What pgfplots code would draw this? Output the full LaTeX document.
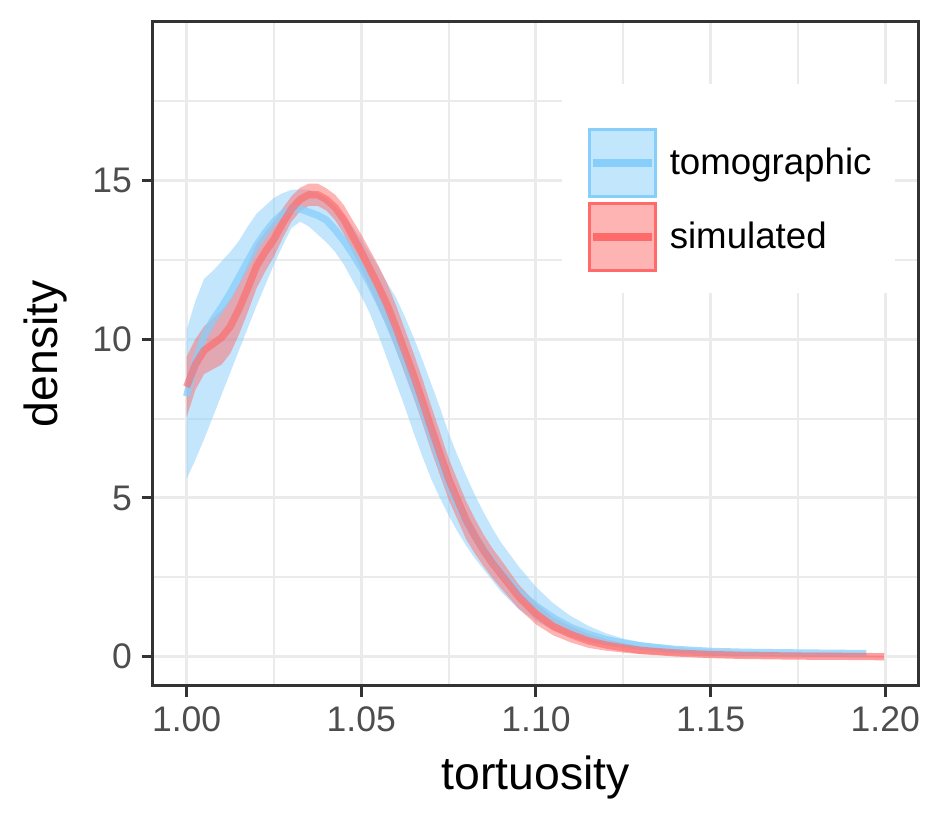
\documentclass[border=0pt]{standalone}
\usepackage{pgfplots}
\pgfplotsset{compat=1.18}
\usepackage{pgfplotstable}
\usepgfplotslibrary{fillbetween}
\usepackage{fontspec}
\setmainfont{Liberation Sans}

\definecolor{tomo}{HTML}{87CEFA}
\definecolor{simu}{HTML}{FF6A6A}
\definecolor{gridc}{RGB}{235,235,235}
\definecolor{axc}{RGB}{51,51,51}
\definecolor{tickc}{RGB}{77,77,77}

% tomographic: lower band, curve, upper band
\pgfplotstableread{
x lo mid hi
1.0000 5.60 8.20 10.30
1.0025 6.20 9.30 11.20
1.0050 6.85 10.10 11.90
1.0075 7.55 10.60 12.15
1.0100 8.25 11.00 12.45
1.0125 8.95 11.45 12.75
1.0150 9.65 11.95 13.10
1.0175 10.35 12.45 13.55
1.0200 11.05 12.95 13.95
1.0225 11.70 13.35 14.20
1.0250 12.35 13.70 14.45
1.0275 12.95 13.95 14.60
1.0300 13.50 14.10 14.70
1.0325 13.70 14.10 14.72
1.0350 13.55 14.00 14.70
1.0375 13.30 13.90 14.60
1.0400 13.05 13.75 14.45
1.0425 12.75 13.45 14.20
1.0450 12.35 13.10 13.90
1.0475 11.85 12.70 13.55
1.0500 11.35 12.25 13.15
1.0525 10.80 11.75 12.70
1.0550 10.10 11.20 12.25
1.0575 9.35 10.60 11.75
1.0600 8.60 9.95 11.30
1.0625 7.85 9.25 10.70
1.0650 7.05 8.50 10.05
1.0675 6.30 7.75 9.35
1.0700 5.60 6.95 8.60
1.0725 5.00 6.15 7.85
1.0750 4.45 5.40 7.05
1.0775 3.95 4.80 6.35
1.0800 3.50 4.25 5.70
1.0825 3.10 3.80 5.10
1.0850 2.75 3.38 4.55
1.0875 2.40 3.00 4.05
1.0900 2.05 2.65 3.60
1.0950 1.50 2.05 2.85
1.1000 1.12 1.60 2.20
1.1050 0.84 1.22 1.68
1.1100 0.62 0.92 1.28
1.1150 0.46 0.71 0.97
1.1200 0.36 0.54 0.74
1.1250 0.28 0.43 0.57
1.1300 0.22 0.34 0.46
1.1400 0.15 0.23 0.31
1.1500 0.11 0.17 0.23
1.1600 0.09 0.14 0.18
1.1750 0.08 0.12 0.15
1.1946 0.07 0.10 0.13
}\tomodata

% simulated
\pgfplotstableread{
x lo mid hi
1.0000 7.55 8.50 9.45
1.0025 8.40 9.20 10.00
1.0050 8.90 9.65 10.40
1.0075 9.05 9.85 10.65
1.0100 9.20 10.05 10.90
1.0125 9.55 10.40 11.25
1.0150 10.15 10.95 11.75
1.0175 10.85 11.60 12.35
1.0200 11.60 12.30 13.00
1.0225 12.13 12.75 13.37
1.0250 12.60 13.15 13.70
1.0275 13.18 13.65 14.12
1.0300 13.70 14.10 14.50
1.0325 14.03 14.40 14.77
1.0350 14.20 14.55 14.90
1.0375 14.20 14.55 14.90
1.0400 14.05 14.40 14.75
1.0425 13.75 14.15 14.55
1.0450 13.32 13.77 14.22
1.0475 12.75 13.25 13.75
1.0500 12.20 12.75 13.30
1.0525 11.60 12.20 12.80
1.0550 11.00 11.65 12.30
1.0575 10.37 11.05 11.73
1.0600 9.65 10.35 11.05
1.0625 8.90 9.60 10.30
1.0650 8.15 8.85 9.55
1.0675 7.35 8.05 8.75
1.0700 6.50 7.20 7.90
1.0725 5.72 6.40 7.08
1.0750 4.95 5.60 6.25
1.0775 4.33 4.95 5.57
1.0800 3.70 4.30 4.90
1.0825 3.25 3.80 4.35
1.0850 2.85 3.35 3.85
1.0875 2.48 2.95 3.42
1.0900 2.15 2.60 3.05
1.0950 1.52 1.90 2.28
1.1000 1.02 1.35 1.68
1.1050 0.67 0.95 1.23
1.1100 0.45 0.70 0.95
1.1150 0.28 0.50 0.72
1.1200 0.19 0.37 0.55
1.1250 0.13 0.28 0.43
1.1300 0.08 0.20 0.32
1.1400 0.04 0.12 0.20
1.1500 0.02 0.07 0.12
1.1600 0.01 0.04 0.07
1.1750 0.00 0.02 0.04
1.1900 -0.01 0.01 0.03
1.1997 -0.02 0.00 0.02
}\simudata

\begin{document}
\begin{tikzpicture}
\begin{axis}[
  scale only axis,
  width=275.7pt, height=239pt,
  xmin=0.9903, xmax=1.2095,
  ymin=-0.913, ymax=19.99,
  axis line style={draw=axc, line width=1.1pt},
  xtick={1,1.05,1.1,1.15,1.2},
  xticklabels={1.00,1.05,1.10,1.15,1.20},
  ytick={0,5,10,15},
  yticklabels={0,5,10,15},
  minor xtick={1.025,1.075,1.125,1.175},
  minor ytick={2.5,7.5,12.5,17.5},
  grid=both,
  major grid style={gridc, line width=1.1pt},
  minor grid style={gridc, line width=0.7pt},
  tick align=outside, tick pos=left,
  major tick length=4pt, minor tick length=0pt,
  tick style={axc, line width=1.1pt},
  ticklabel style={font=\fontsize{12.8}{15}\selectfont, text=tickc},
  xlabel={tortuosity}, ylabel={density},
  label style={font=\fontsize{16.7}{20}\selectfont},
  xlabel style={at={(axis description cs:0.5,-0.1386)}, anchor=center},
  ylabel style={at={(axis description cs:-0.1396,0.5)}, anchor=center},
  legend style={at={(0.5675,0.8414)}, anchor=north west, draw=none, fill=none,
    inner sep=0pt, row sep=1.2pt, column sep=4.5pt,
    font=\fontsize{13.2}{16}\selectfont, nodes={inner xsep=0pt, inner ysep=0pt}},
  legend cell align=left,
]
\fill[white] (rel axis cs:0.5345,0.9066) rectangle (rel axis cs:0.9693,0.5919);

\addplot[draw=none, name path=tu, forget plot] table[x=x, y=hi] {\tomodata};
\addplot[draw=none, name path=tl, forget plot] table[x=x, y=lo] {\tomodata};
\addplot[fill=tomo, fill opacity=0.5, draw=none, forget plot] fill between[of=tu and tl];

\addplot[draw=none, name path=su, forget plot] table[x=x, y=hi] {\simudata};
\addplot[draw=none, name path=sl, forget plot] table[x=x, y=lo] {\simudata};
\addplot[fill=simu, fill opacity=0.5, draw=none, forget plot] fill between[of=su and sl];

\addplot[tomo, line width=2.6pt, draw opacity=0.75, line join=round, forget plot] table[x=x, y=mid] {\tomodata};
\addplot[simu, line width=2.6pt, draw opacity=0.65, line join=round, forget plot] table[x=x, y=mid] {\simudata};

\addlegendimage{legend image code/.code={
  \draw[tomo, line width=1.2pt, fill=tomo, fill opacity=0.5] (0pt,-12.1pt) rectangle (23.8pt,12.1pt);
  \draw[tomo, line width=2.6pt] (1.4pt,0pt) -- (22.4pt,0pt);}}
\addlegendentry{tomographic}
\addlegendimage{legend image code/.code={
  \draw[simu, line width=1.2pt, fill=simu, fill opacity=0.5] (0pt,-12.1pt) rectangle (23.8pt,12.1pt);
  \draw[simu, line width=2.6pt] (1.4pt,0pt) -- (22.4pt,0pt);}}
\addlegendentry{simulated}
\end{axis}
\pgfresetboundingbox
\useasboundingbox ([xshift=-55pt,yshift=-50.4pt]current axis.south west) rectangle ([xshift=9.2pt,yshift=7.9pt]current axis.north east);
\end{tikzpicture}
\end{document}
